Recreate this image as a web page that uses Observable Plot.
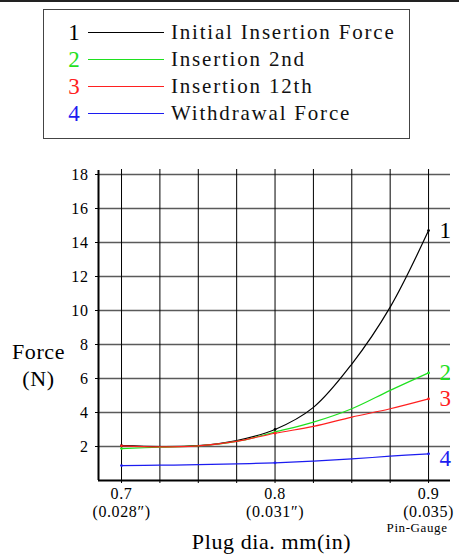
<!DOCTYPE html>
<html><head><meta charset="utf-8">
<script src="https://cdn.jsdelivr.net/npm/d3@7"></script>
<script src="https://cdn.jsdelivr.net/npm/@observablehq/plot@0.6"></script>
<style>
body{margin:0;background:#fff;font-family:'Liberation Serif','DejaVu Serif',serif;}
#page{position:relative;width:459px;height:560px;overflow:hidden;background:#fff;}
#topline{position:absolute;left:0;top:0;width:459px;height:2px;background:#222;}
#legend{position:absolute;left:43px;top:9px;width:365px;height:128px;border:1px solid #444;font-family:'Liberation Serif',serif;}
.row{position:absolute;left:0;width:365px;height:27px;}
.num{position:absolute;left:20px;width:20px;text-align:center;font-size:23px;line-height:27px;top:0;font-family:'Liberation Serif',serif;}
.sw{position:absolute;left:44px;width:76px;top:13px;height:1px;}
.lab{position:absolute;left:127px;top:0;font-size:21px;line-height:27px;letter-spacing:1.8px;white-space:nowrap;color:#111;font-family:'Liberation Serif',serif;}
#chart{position:absolute;left:0;top:150px;}
</style></head>
<body><div id="page"><div id="topline"></div><div id="legend"></div><div id="chart"></div></div>
<script>
// ---- data ----
const xValues = [0.7, 0.725, 0.75, 0.775, 0.8, 0.825, 0.85, 0.875, 0.9];
const initialInsertion = [2.05, 2.0, 2.05, 2.35, 3.0, 4.3, 6.85, 10.2, 14.7];
const insertion2nd     = [1.88, 1.96, 2.04, 2.3, 2.85, 3.43, 4.22, 5.3, 6.33];
const insertion12th    = [2.04, 1.98, 2.04, 2.3, 2.78, 3.18, 3.73, 4.22, 4.8];
const withdrawal       = [0.88, 0.9, 0.93, 0.98, 1.04, 1.14, 1.27, 1.43, 1.57];
const seriesIds = ["1", "2", "3", "4"];
const seriesNames = ["Initial Insertion Force", "Insertion 2nd", "Insertion 12th", "Withdrawal Force"];
const seriesColors = ["#000000", "#1fe01f", "#ff2020", "#1c1cf0"];
const seriesValues = [initialInsertion, insertion2nd, insertion12th, withdrawal];
const xTicks = [0.7, 0.8, 0.9];
const mmLabels = ["0.7", "0.8", "0.9"];
const inchLabels = ["(0.028\u2033)", "(0.031\u2033)", "(0.035)"];
const yTicks = [2, 4, 6, 8, 10, 12, 14, 16, 18];
const xLabel = "Plug dia. mm(in)";
const yLabel = "Force\n(N)";
const noteLabel = "Pin-Gauge";

// ---- legend ----
const legend = document.getElementById("legend");
seriesIds.forEach((id, i) => {
  const row = document.createElement("div");
  row.className = "row";
  row.style.top = (9 + 27 * i) + "px";
  row.innerHTML = `<span class="num" style="color:${seriesColors[i]}">${id}</span>` +
    `<div class="sw" style="background:${seriesColors[i]}"></div>` +
    `<span class="lab">${seriesNames[i]}</span>`;
  legend.appendChild(row);
});

// ---- chart ----
const rows = [];
seriesIds.forEach((id, i) => xValues.forEach((x, j) => rows.push({id, x, y: seriesValues[i][j], color: seriesColors[i]})));
const ends = rows.filter(d => d.x === xValues[xValues.length - 1]);
const dots = rows.filter(d => xTicks.includes(d.x));

const chart = Plot.plot({
  width: 459, height: 410,
  marginTop: 24, marginBottom: 80, marginLeft: 98, marginRight: 9,
  x: {domain: [0.685, 0.9143]},
  y: {domain: [0, 18]},
  color: {type: "identity"},
  style: {fontFamily: "'Liberation Serif', serif", fontSize: "16px", background: "transparent", overflow: "visible", letterSpacing: "0.6px"},
  marks: [
    Plot.ruleY(yTicks, {stroke: "#5a5a5a", strokeWidth: 1.6}),
    Plot.ruleX(xValues, {stroke: "#000", strokeWidth: 1, insetTop: -5, insetBottom: -3}),
    Plot.ruleX([0.685], {stroke: "#000", strokeWidth: 2, insetTop: -4}),
    Plot.ruleY([0], {stroke: "#000", strokeWidth: 2}),
    Plot.axisY({ticks: yTicks, tickSize: 3, tickPadding: 7, label: null, fontSize: 16}),
    Plot.axisX({ticks: xTicks, tickSize: 0, tickPadding: 6, label: null, fontSize: 16, lineHeight: 1.1,
      tickFormat: d => mmLabels[xTicks.indexOf(d)] + "\n" + inchLabels[xTicks.indexOf(d)]}),
    Plot.line(rows, {x: "x", y: "y", z: "id", stroke: "color", strokeWidth: 1.2, curve: "catmull-rom"}),
    Plot.dot(dots, {x: "x", y: "y", fill: "color", r: 1.4}),
    Plot.text(ends.filter(d => d.id !== "4"), {x: "x", y: "y", text: "id", fill: "color", dx: 17, fontSize: 23}),
    Plot.text(ends.filter(d => d.id === "4"), {x: "x", y: "y", text: "id", fill: "color", dx: 17, dy: 5, fontSize: 23}),
    Plot.text([yLabel], {text: d => d, frameAnchor: "left", textAnchor: "middle", dx: -60, dy: 36, fontSize: 22, lineHeight: 1.23}),
    Plot.text([noteLabel], {text: d => d, x: [xTicks[2]], frameAnchor: "bottom", textAnchor: "end", dx: 19, dy: 51, fontSize: 13}),
    Plot.text([xLabel], {text: d => d, frameAnchor: "bottom", dx: -3, dy: 68, fontSize: 22})
  ]
});
document.getElementById("chart").appendChild(chart);
</script></body></html>
